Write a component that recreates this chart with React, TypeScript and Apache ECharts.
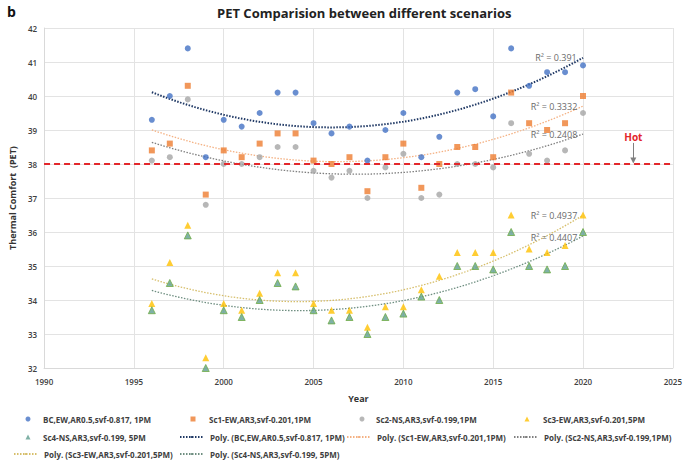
import React, { useEffect, useRef } from "react";
import * as echarts from "echarts";

const years = [1996,1997,1998,1999,2000,2001,2002,2003,2004,2005,2006,2007,2008,2009,2010,2011,2012,2013,2014,2015,2016,2017,2018,2019,2020];
const bcValues = [39.3,40.0,41.4,38.2,39.3,39.1,39.5,40.1,40.1,39.2,38.9,39.1,38.1,39.0,39.5,38.2,38.8,40.1,40.2,39.4,41.4,40.3,40.7,40.7,40.9];
const sc1Values = [38.4,38.6,40.3,37.1,38.4,38.2,38.6,38.9,38.9,38.1,38.0,38.2,37.2,38.2,38.6,37.3,38.0,38.5,38.5,38.2,40.1,39.2,39.0,39.2,40.0];
const sc2Values = [38.1,38.2,39.9,36.8,38.0,38.0,38.2,38.5,38.5,37.8,37.6,37.8,37.0,37.9,38.3,37.0,37.1,38.0,38.0,37.9,39.2,38.3,38.1,38.4,39.5];
const sc3Values = [33.9,35.1,36.2,32.3,33.9,33.7,34.2,34.8,34.8,33.9,33.7,33.7,33.2,33.8,33.8,34.3,34.7,35.4,35.4,35.4,36.5,35.5,35.4,35.6,36.5];
const sc4Values = [33.7,34.5,35.9,32.0,33.7,33.5,34.0,34.5,34.4,33.7,33.4,33.5,33.0,33.5,33.6,34.1,34.0,35.0,35.0,34.9,36.0,35.0,34.9,35.0,36.0];
const seriesNames = [
  "BC,EW,AR0.5,svf-0.817, 1PM",
  "Sc1-EW,AR3,svf-0.201,1PM",
  "Sc2-NS,AR3,svf-0.199,1PM",
  "Sc3-EW,AR3,svf-0.201,5PM",
  "Sc4-NS,AR3,svf-0.199, 5PM",
];
const r2Labels = ["R² = 0.391", "R² = 0.3332", "R² = 0.2408", "R² = 0.4937", "R² = 0.4407"];
const hotThreshold = 38;
const hotYear = 2022.8;
const xTicks = { min: 1990, max: 2025, interval: 5 };
const yTicks = { min: 32, max: 42, interval: 1 };

function quadFit(xs: number[], ys: number[]) {
  const x0 = 2008;
  let s = [0, 0, 0, 0, 0];
  let t = [0, 0, 0];
  xs.forEach((x, i) => {
    const u = x - x0;
    const p = [1, u, u * u, u * u * u, u * u * u * u];
    for (let k = 0; k < 5; k++) s[k] += p[k];
    t[0] += ys[i];
    t[1] += ys[i] * u;
    t[2] += ys[i] * u * u;
  });
  const A = [
    [s[0], s[1], s[2], t[0]],
    [s[1], s[2], s[3], t[1]],
    [s[2], s[3], s[4], t[2]],
  ];
  for (let i = 0; i < 3; i++) {
    for (let j = i + 1; j < 3; j++) {
      const f = A[j][i] / A[i][i];
      for (let k = i; k < 4; k++) A[j][k] -= f * A[i][k];
    }
  }
  const c = [0, 0, 0];
  for (let i = 2; i >= 0; i--) {
    let v = A[i][3];
    for (let k = i + 1; k < 3; k++) v -= A[i][k] * c[k];
    c[i] = v / A[i][i];
  }
  const pts: number[][] = [];
  const a = xs[0], b = xs[xs.length - 1];
  for (let i = 0; i <= 60; i++) {
    const x = a + ((b - a) * i) / 60;
    const u = x - x0;
    pts.push([x, c[0] + c[1] * u + c[2] * u * u]);
  }
  return pts;
}

export default function App() {
  const ref = useRef<HTMLDivElement>(null);
  useEffect(() => {
    if (!ref.current) return;
    const chart = echarts.init(ref.current, null, { renderer: "svg" });
    const values = [bcValues, sc1Values, sc2Values, sc3Values, sc4Values];
    const colors = ["#4472C4", "#ED7D31", "#A5A5A5", "#FFC000", "#6FA985"];
    const symbols = ["circle", "rect", "circle", "triangle", "triangle"];
    const sizes = [6, 6, 6, 7, 7];
    const trendColors = ["#1F3864", "#F4B183", "#7F7F7F", "#D6BE6A", "#6E8E80"];
    const trendWidths = [2, 1.3, 1.3, 1.3, 1.3];
    const font = "'Open Sans', 'Liberation Sans', sans-serif";

    const scatter = values.map((v, i) => ({
      name: seriesNames[i],
      type: "scatter",
      symbol: symbols[i],
      symbolSize: sizes[i],
      itemStyle: i === 4 ? { color: "#5F9E90", borderColor: "#70AD47", borderWidth: 1 } : { color: colors[i] },
      data: years.map((y, k) => [y, v[k]]),
      z: 3,
    }));
    const trends = values.map((v, i) => ({
      name: "Poly. (" + seriesNames[i] + ")",
      type: "line",
      showSymbol: false,
      symbol: "none",
      smooth: false,
      lineStyle: { color: trendColors[i], width: trendWidths[i], type: [1.5, 1.5] },
      itemStyle: { color: trendColors[i] },
      data: quadFit(years, v),
      z: 2,
    }));

    const rowTop = [415, 433, 450];
    const colMarker = [28, 193, 362, 527];
    const colText = [43, 209, 376, 543];
    const legendSlots = [
      [0, 0], [0, 1], [0, 2], [0, 3],
      [1, 0], [1, 1], [1, 2], [1, 3],
      [2, 0], [2, 1],
    ];
    const legendNames = [
      seriesNames[0], seriesNames[1], seriesNames[2], seriesNames[3],
      seriesNames[4], "Poly. (" + seriesNames[0] + ")", "Poly. (" + seriesNames[1] + ")", "Poly. (" + seriesNames[2] + ")",
      "Poly. (" + seriesNames[3] + ")", "Poly. (" + seriesNames[4] + ")",
    ];
    const legends = legendNames.map((n, i) => {
      const [r, c] = legendSlots[i];
      const isMarker = i < 5;
      const w = isMarker ? 5 : 23;
      const left = isMarker ? colMarker[c] - 2.5 : colText[c] - 2 - w - 5;
      const pad = isMarker ? colText[c] - (left + w + 5) : 2;
      const leg: any = {
        data: [n],
        left,
        top: rowTop[r],
        itemWidth: w,
        itemHeight: isMarker ? 5 : 2,
        padding: 0,
        textStyle: { fontSize: 8, fontWeight: "bold", color: "#404040", fontFamily: font, padding: [0, 0, 0, pad] },
      };
      if (i === 4) leg.itemStyle = { borderWidth: 0 };
      return leg;
    });

    const r2Pos = [[556, 57], [554, 106], [554, 134], [554, 215], [554, 237]];

    chart.setOption({
      animation: false,
      backgroundColor: "#fff",
      title: [
        { text: "PET Comparision between different scenarios", left: 212, top: 1, textStyle: { fontSize: 13, fontWeight: "bold", color: "#222", fontFamily: font } },
        { text: "b", left: 2, top: -1, textStyle: { fontSize: 14, fontWeight: "bold", color: "#111", fontFamily: font } },
      ],
      legend: legends,
      grid: { left: 31, right: 9, top: 28, bottom: 92 },
      xAxis: {
        type: "value",
        min: xTicks.min,
        max: xTicks.max,
        interval: xTicks.interval,
        name: "Year",
        nameLocation: "middle",
        nameGap: 26,
        nameTextStyle: { fontSize: 9, fontWeight: "bold", color: "#333", fontFamily: font },
        axisLine: { show: true, lineStyle: { color: "#D9D9D9" } },
        axisTick: { show: false },
        splitLine: { show: true, lineStyle: { color: "#E3E3E3" } },
        axisLabel: { fontSize: 8, fontWeight: 600, color: "#404040", margin: 9, fontFamily: font, formatter: (v: number) => String(v) },
      },
      yAxis: {
        type: "value",
        min: yTicks.min,
        max: yTicks.max,
        interval: yTicks.interval,
        name: "Thermal Comfort  (PET)",
        nameLocation: "middle",
        nameGap: 23,
        nameTextStyle: { fontSize: 9, fontWeight: "bold", color: "#333", fontFamily: font },
        axisLine: { show: true, lineStyle: { color: "#D9D9D9" } },
        axisTick: { show: false },
        splitLine: { show: true, lineStyle: { color: "#E3E3E3" } },
        axisLabel: { fontSize: 8, fontWeight: 600, color: "#404040", margin: 7, fontFamily: font },
      },
      graphic: r2Labels.map((t, i) => ({
        type: "text",
        x: r2Pos[i][0],
        y: r2Pos[i][1],
        style: { text: t, fill: "#6B6B6B", fontSize: 9, fontFamily: font, align: "center", verticalAlign: "middle" },
        z: 10,
      })),
      series: [
        ...scatter,
        ...trends,
        {
          name: "Hot",
          type: "line",
          symbol: "none",
          data: [[xTicks.min, hotThreshold], [xTicks.max, hotThreshold]],
          lineStyle: { color: "#E3262B", width: 1.8, type: [6, 4] },
          z: 4,
          markLine: {
            silent: true,
            symbol: ["none", "triangle"],
            symbolSize: [6, 6],
            lineStyle: { color: "#808080", width: 1, type: "solid" },
            label: { show: true, position: "start", formatter: "Hot", color: "#E3262B", fontWeight: "bold", fontSize: 10, fontFamily: font, distance: 1 },
            data: [[{ coord: [hotYear, 38.62] }, { coord: [hotYear, 38.1] }]],
          },
        },
      ],
    });
    return () => chart.dispose();
  }, []);
  return <div ref={ref} style={{ width: 685, height: 460, position: "absolute", left: 0, top: 0 }} />;
}
